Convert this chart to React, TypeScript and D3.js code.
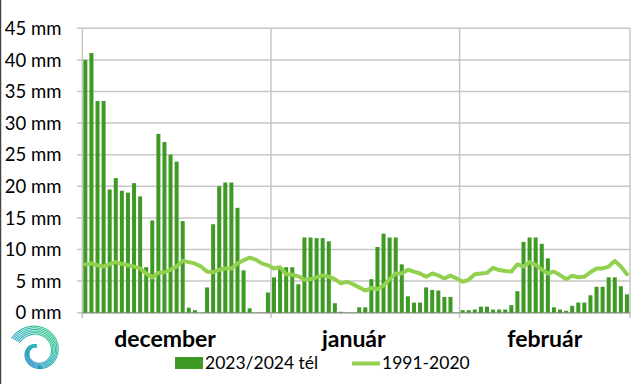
import React from "react";
import * as d3 from "d3";

const decBars = [40.0, 41.1, 33.5, 33.5, 19.5, 21.3, 19.3, 19.0, 20.5, 18.4, 7.2, 14.6, 28.3, 27.0, 25.0, 23.9, 14.5, 0.8, 0.4, 0, 4.0, 14.0, 20.0, 20.6, 20.6, 16.6, 6.7, 0.7, 0, 0, 3.2];
const janBars = [5.6, 7.0, 7.2, 7.2, 4.5, 11.9, 11.9, 11.8, 11.8, 11.3, 1.5, 0.15, 0, 0, 0.85, 0.85, 5.3, 10.4, 12.5, 11.9, 11.9, 7.65, 2.6, 1.6, 1.6, 4.0, 3.6, 3.5, 2.5, 2.5, 0];
const febBars = [0.4, 0.4, 0.5, 0.95, 0.95, 0.5, 0.5, 0.5, 1.2, 3.4, 11.2, 11.9, 11.9, 10.9, 8.6, 0.85, 0.5, 0.3, 1.1, 1.6, 1.6, 2.75, 4.1, 4.1, 5.6, 5.6, 4.2, 2.9];

const decNormal = [7.65, 7.8, 7.5, 7.3, 7.7, 8.0, 7.7, 7.5, 7.3, 7.0, 6.2, 5.6, 6.3, 6.4, 6.8, 7.3, 8.2, 8.0, 7.8, 7.3, 6.5, 6.4, 6.8, 7.0, 7.0, 7.8, 8.3, 8.7, 8.4, 7.8, 7.5];
const janNormal = [7.0, 7.2, 6.1, 6.0, 5.75, 5.2, 5.3, 5.6, 5.9, 5.7, 5.3, 4.65, 4.9, 4.5, 4.0, 3.5, 3.9, 3.7, 4.3, 5.3, 6.2, 6.2, 6.8, 6.5, 6.2, 5.7, 6.2, 5.9, 5.4, 5.9, 5.4];
const febNormal = [4.9, 5.2, 6.1, 6.2, 6.3, 7.1, 6.75, 6.6, 6.5, 7.65, 7.3, 8.0, 7.55, 6.85, 6.2, 6.5, 5.95, 5.3, 5.85, 5.6, 5.7, 6.4, 7.0, 7.0, 7.3, 8.2, 7.3, 6.1];

const months = ["december", "január", "február"];
const monthLengths = [decBars.length, janBars.length, febBars.length];
const yTicks = [0, 5, 10, 15, 20, 25, 30, 35, 40, 45];
const seriesNames = ["2023/2024 tél", "1991-2020"];

const W = 640;
const H = 384;
const FONT = "Lato, 'Open Sans', sans-serif";
const BAR = "#3f9a25";
const LINE = "#92d050";
const GRID = "#c6c6c6";

export default function App() {
  const bars = [...decBars, ...janBars, ...febBars];
  const normal = [...decNormal, ...janNormal, ...febNormal];
  const n = bars.length;

  const x = d3.scaleBand<number>().domain(d3.range(n)).range([82.3, 630]).paddingInner(0.34).paddingOuter(0.17);
  const step = x.step();
  const left = 82.3;
  const y = d3.scaleLinear().domain([0, 45]).range([312.7, 28.3]);

  const line = d3
    .line<number>()
    .x((_, i) => (x(i) as number) + x.bandwidth() / 2)
    .y((v) => y(v));

  const bounds: number[] = [0];
  monthLengths.forEach((l) => bounds.push(bounds[bounds.length - 1] + l));
  const labelOffsets = [-11.5, -11.5, 0];

  // spiral logo
  const cx = 37, cy = 352;
  const strands = [0, 1, 2, 3, 4, 5];
  const spiral = (k: number) => {
    const pts: [number, number][] = [];
    const t0 = 0.6 * Math.PI;
    const t1 = 2.95 * Math.PI;
    for (let t = t0; t <= t1; t += 0.05) {
      const frac = (t - t0) / (t1 - t0);
      const r = 4.5 + frac * 15.5 + k * (0.5 + frac * 1.3);
      const a = -t + 0.3;
      pts.push([cx + r * Math.cos(a), cy + r * Math.sin(a)]);
    }
    return d3.line()(pts) as string;
  };

  return (
    <svg width={W} height={H} style={{ position: "absolute", left: 0, top: 0, background: "#fff" }} fontFamily={FONT}>
      <defs>
        <linearGradient id="lg" x1="0" y1="1" x2="1" y2="0">
          <stop offset="0" stopColor="#2f7fd0" />
          <stop offset="0.5" stopColor="#2fb0b8" />
          <stop offset="1" stopColor="#3dcf86" />
        </linearGradient>
      </defs>
      <rect width={W} height={H} fill="#fff" />
      <line x1={0.5} x2={0.5} y1={0} y2={H} stroke="#444" strokeWidth={1.5} />

      {yTicks.map((t) => (
        <g key={t}>
          <line x1={77} x2={630} y1={y(t)} y2={y(t)} stroke={GRID} strokeWidth={1.5} />
          <text x={61.5} y={y(t)} dy="0.36em" textAnchor="end" fontSize={18.5} fill="#000">
            {`${t} mm`}
          </text>
        </g>
      ))}

      {bounds.map((b, i) => (
        <line key={i} x1={left + b * step} x2={left + b * step} y1={28.3} y2={318} stroke={GRID} strokeWidth={1.5} />
      ))}
      <line x1={left} x2={630} y1={y(0)} y2={y(0)} stroke="#a0a0a0" strokeWidth={1.5} />

      {bars.map((v, i) => (
        <rect key={i} x={x(i)} y={y(v)} width={x.bandwidth()} height={y(0) - y(v)} fill={BAR} />
      ))}

      <path d={line(normal) as string} fill="none" stroke={LINE} strokeWidth={4} strokeLinejoin="round" strokeLinecap="round" />

      {months.map((m, i) => (
        <text key={m} x={left + ((bounds[i] + bounds[i + 1]) / 2) * step + labelOffsets[i]} y={347} textAnchor="middle" fontSize={23} fontWeight="bold" fill="#000">
          {m}
        </text>
      ))}

      <rect x={175} y={357} width={28} height={12} fill={BAR} />
      <text x={205} y={369} fontSize={17.5} fill="#000">{seriesNames[0]}</text>
      <line x1={352} x2={380} y1={363.5} y2={363.5} stroke={LINE} strokeWidth={4} />
      <text x={382} y={369} fontSize={17.5} fill="#000">{seriesNames[1]}</text>

      {strands.map((k) => (
        <path key={k} d={spiral(k)} fill="none" stroke="url(#lg)" strokeWidth={1.1} />
      ))}
    </svg>
  );
}
